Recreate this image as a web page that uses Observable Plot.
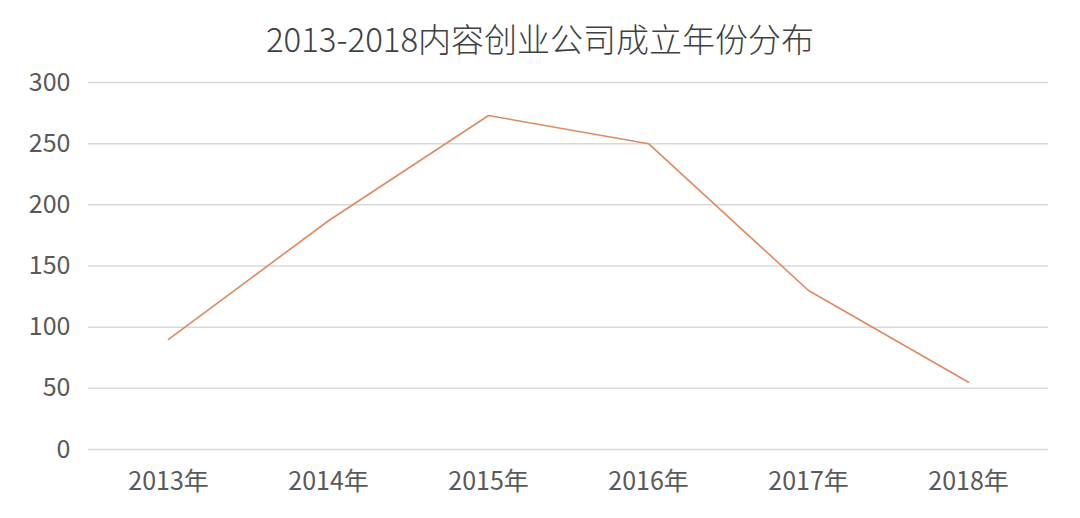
<!DOCTYPE html>
<html>
<head>
<meta charset="utf-8">
<script src="https://cdn.jsdelivr.net/npm/d3@7"></script>
<script src="https://cdn.jsdelivr.net/npm/@observablehq/plot@0.6"></script>
<style>
  html, body { margin: 0; padding: 0; background: #ffffff; }
  body { width: 1080px; height: 518px; overflow: hidden; font-family: "Noto Sans CJK SC", "Noto Sans", sans-serif; }
  #title { box-sizing: border-box; height: 60px; padding-top: 16px; line-height: 44px; text-align: center; font-size: 33px; color: #404040; font-weight: 300; }
</style>
</head>
<body>
<div id="title">2013-2018内容创业公司成立年份分布</div>
<div id="chart"></div>
<script>
const years = ["2013年", "2014年", "2015年", "2016年", "2017年", "2018年"];
const counts = [90, 187, 273, 250, 130, 55];
const yTicks = [0, 50, 100, 150, 200, 250, 300];

const data = years.map((y, i) => ({year: y, value: counts[i]}));

const chart = Plot.plot({
  width: 1080,
  height: 458,
  marginTop: 22,
  marginBottom: 69,
  marginLeft: 88,
  marginRight: 32,
  style: {fontFamily: "'Noto Sans CJK SC', 'Noto Sans', sans-serif", background: "#ffffff"},
  x: {type: "point", domain: years, padding: 0.5},
  y: {domain: [0, 300]},
  marks: [
    Plot.ruleY(yTicks, {stroke: "#d9d9d9", strokeWidth: 1.5}),
    Plot.axisY({ticks: yTicks, tickSize: 0, tickPadding: 18, fontSize: 25, color: "#595959", label: null}),
    Plot.axisX({tickSize: 0, tickPadding: 23, fontSize: 25, color: "#595959", label: null}),
    Plot.line(data, {x: "year", y: "value", stroke: "#dc8b5f", strokeWidth: 1.6})
  ]
});
document.getElementById("chart").appendChild(chart);
</script>
</body>
</html>
